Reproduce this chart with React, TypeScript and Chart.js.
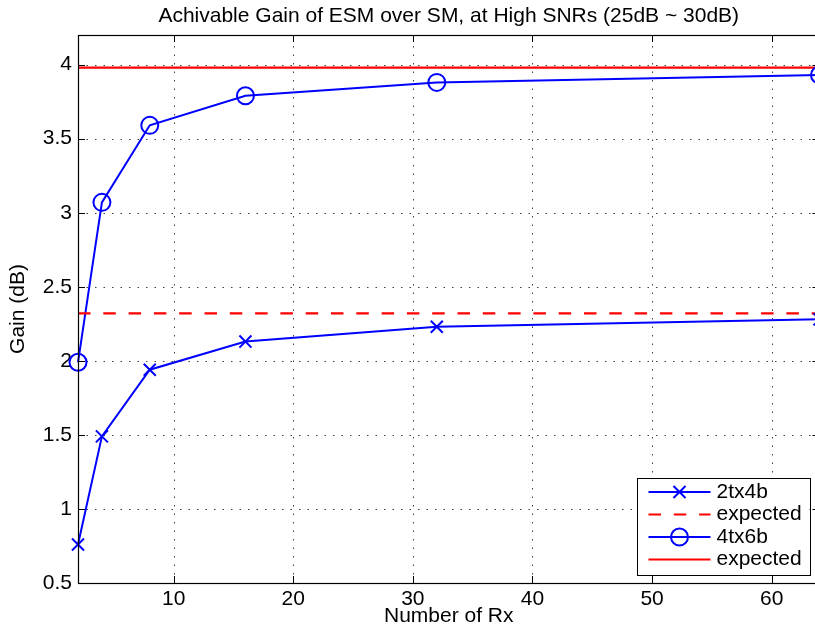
import React, { useEffect, useRef } from "react";
import { Chart, registerables } from "chart.js";

Chart.register(...registerables);

// ---- data ----
const rxCounts = [2, 4, 8, 16, 32, 64];
const gain2tx4b = [0.76, 1.49, 1.94, 2.13, 2.23, 2.28];
const gain4tx6b = [1.99, 3.07, 3.59, 3.79, 3.88, 3.93];
const expected2tx4b = 2.32;
const expected4tx6b = 3.98;
const xTickValues = [10, 20, 30, 40, 50, 60];
const yTickValues = [0.5, 1, 1.5, 2, 2.5, 3, 3.5, 4];
const yTickLabels = ["0.5", "1", "1.5", "2", "2.5", "3", "3.5", "4"];
const seriesLabels = ["2tx4b", "expected", "4tx6b", "expected"];
const titleText = "Achivable Gain of ESM over SM, at High SNRs (25dB ~ 30dB)";
const xTitle = "Number of Rx";
const yTitle = "Gain (dB)";

const FONT = "'Liberation Sans', Arial, Helvetica, sans-serif";
const FS = 21;
const BLUE = "#0000ff";
const RED = "#ff0000";

const matlabAxesPlugin = {
  id: "matlabAxes",
  beforeDatasetsDraw(chart: any) {
    const { ctx, chartArea: a, scales } = chart;
    ctx.save();
    ctx.strokeStyle = "rgba(0,0,0,0.75)";
    ctx.lineWidth = 1;
    ctx.setLineDash([1.5, 7]);
    xTickValues.forEach((v) => {
      const x = Math.round(scales.x.getPixelForValue(v)) + 0.5;
      ctx.beginPath();
      ctx.moveTo(x, a.bottom);
      ctx.lineTo(x, a.top);
      ctx.stroke();
    });
    yTickValues.forEach((v) => {
      const y = Math.round(scales.y.getPixelForValue(v)) + 0.5;
      ctx.beginPath();
      ctx.moveTo(a.left, y);
      ctx.lineTo(a.right, y);
      ctx.stroke();
    });
    ctx.restore();
  },
  afterDatasetsDraw(chart: any) {
    const { ctx, chartArea: a, scales } = chart;
    ctx.save();
    ctx.setLineDash([]);
    ctx.strokeStyle = "#000";
    ctx.lineWidth = 1.2;
    ctx.strokeRect(Math.round(a.left) + 0.5, Math.round(a.top) + 0.5, a.right - a.left, a.bottom - a.top);
    const tl = 7;
    ctx.lineWidth = 1;
    xTickValues.forEach((v) => {
      const x = Math.round(scales.x.getPixelForValue(v)) + 0.5;
      ctx.beginPath();
      ctx.moveTo(x, a.bottom);
      ctx.lineTo(x, a.bottom - tl);
      ctx.moveTo(x, a.top);
      ctx.lineTo(x, a.top + tl);
      ctx.stroke();
    });
    yTickValues.forEach((v) => {
      const y = Math.round(scales.y.getPixelForValue(v)) + 0.5;
      ctx.beginPath();
      ctx.moveTo(a.left, y);
      ctx.lineTo(a.left + tl, y);
      ctx.moveTo(a.right, y);
      ctx.lineTo(a.right - tl, y);
      ctx.stroke();
    });

    // legend box
    const boxW = 173;
    const boxH = 97;
    const bx = a.right - 10 - boxW;
    const by = a.bottom - 8 - boxH;
    ctx.fillStyle = "#fff";
    ctx.fillRect(bx, by, boxW, boxH);
    ctx.strokeStyle = "#000";
    ctx.lineWidth = 1;
    ctx.strokeRect(Math.round(bx) + 0.5, Math.round(by) + 0.5, boxW, boxH);
    ctx.font = `${FS}px ${FONT}`;
    ctx.textBaseline = "middle";
    ctx.textAlign = "left";
    chart.data.datasets.forEach((ds: any, i: number) => {
      const y = by + 14 + i * 22.5;
      const x0 = bx + 12;
      const x1 = bx + 74;
      const xm = (x0 + x1) / 2;
      ctx.save();
      ctx.strokeStyle = ds.borderColor;
      ctx.lineWidth = ds.borderWidth;
      ctx.setLineDash(ds.borderDash || []);
      ctx.beginPath();
      ctx.moveTo(x0, y);
      ctx.lineTo(x1, y);
      ctx.stroke();
      ctx.setLineDash([]);
      if (ds.pointStyle === "crossRot") {
        const r = ds.pointRadius * Math.SQRT1_2;
        ctx.beginPath();
        ctx.moveTo(xm - r, y - r);
        ctx.lineTo(xm + r, y + r);
        ctx.moveTo(xm - r, y + r);
        ctx.lineTo(xm + r, y - r);
        ctx.stroke();
      } else if (ds.pointStyle === "circle" && ds.pointRadius > 0) {
        ctx.beginPath();
        ctx.arc(xm, y, ds.pointRadius, 0, Math.PI * 2);
        ctx.stroke();
      }
      ctx.restore();
      ctx.fillStyle = "#000";
      ctx.fillText(seriesLabels[i], bx + 80, y);
    });
    ctx.restore();
  },
};

export default function App() {
  const canvasRef = useRef<HTMLCanvasElement | null>(null);

  useEffect(() => {
    if (!canvasRef.current) return;
    const first = rxCounts[0];
    const last = rxCounts[rxCounts.length - 1];
    const chart = new Chart(canvasRef.current, {
      type: "line",
      data: {
        datasets: [
          {
            label: seriesLabels[0],
            data: rxCounts.map((x, i) => ({ x, y: gain2tx4b[i] })),
            borderColor: BLUE,
            backgroundColor: "transparent",
            borderWidth: 2,
            pointStyle: "crossRot",
            pointRadius: 8.5,
            pointBorderWidth: 2,
            pointBorderColor: BLUE,
            tension: 0,
            clip: false,
          },
          {
            label: seriesLabels[1],
            data: [
              { x: first, y: expected2tx4b },
              { x: last, y: expected2tx4b },
            ],
            borderColor: RED,
            backgroundColor: "transparent",
            borderWidth: 2.2,
            borderDash: [12.5, 12.8],
            pointRadius: 0,
            pointStyle: "line",
            clip: false,
          },
          {
            label: seriesLabels[2],
            data: rxCounts.map((x, i) => ({ x, y: gain4tx6b[i] })),
            borderColor: BLUE,
            backgroundColor: "transparent",
            borderWidth: 2,
            pointStyle: "circle",
            pointRadius: 8.5,
            pointBorderWidth: 2,
            pointBorderColor: BLUE,
            pointBackgroundColor: "transparent",
            tension: 0,
            clip: false,
          },
          {
            label: seriesLabels[3],
            data: [
              { x: first, y: expected4tx6b },
              { x: last, y: expected4tx6b },
            ],
            borderColor: RED,
            backgroundColor: "transparent",
            borderWidth: 2.2,
            pointRadius: 0,
            pointStyle: "line",
            clip: false,
          },
        ] as any,
      },
      options: {
        animation: false,
        responsive: false,
        maintainAspectRatio: false,
        layout: { padding: { left: 0, right: 8, top: 0, bottom: 0 } },
        plugins: {
          legend: { display: false },
          tooltip: { enabled: false },
          title: {
            display: true,
            text: titleText,
            fullSize: false,
            color: "#000",
            font: { family: FONT, size: FS, weight: "normal" as any, lineHeight: 1.2 },
            padding: { top: 3.5, bottom: 6.3 },
          },
        },
        scales: {
          x: {
            type: "linear",
            min: first,
            max: last,
            afterBuildTicks: (scale: any) => {
              scale.ticks = xTickValues.map((v) => ({ value: v }));
            },
            afterFit: (scale: any) => {
              scale.height = 49;
            },
            grid: { display: false, drawTicks: false },
            border: { display: false },
            ticks: {
              color: "#000",
              font: { family: FONT, size: FS, lineHeight: 1.2 },
              padding: 4,
              maxRotation: 0,
              autoSkip: false,
              callback: (v: any) => String(v),
            },
            title: {
              display: true,
              text: xTitle,
              color: "#000",
              font: { family: FONT, size: FS, lineHeight: 1.2 },
              padding: { top: 0, bottom: 3 },
            },
          },
          y: {
            type: "linear",
            min: 0.5,
            max: 4.2,
            afterBuildTicks: (scale: any) => {
              scale.ticks = yTickValues.map((v) => ({ value: v }));
            },
            afterFit: (scale: any) => {
              scale.width = 78;
            },
            grid: { display: false, drawTicks: false },
            border: { display: false },
            ticks: {
              color: "#000",
              font: { family: FONT, size: FS, lineHeight: 1.2 },
              padding: 6,
              autoSkip: false,
              callback: (v: any) => {
                const idx = yTickValues.indexOf(Number(v));
                return idx >= 0 ? yTickLabels[idx] : "";
              },
            },
            title: {
              display: true,
              text: yTitle,
              color: "#000",
              font: { family: FONT, size: FS, lineHeight: 1.2 },
              padding: { top: 6, bottom: 0 },
            },
          },
        },
      },
      plugins: [matlabAxesPlugin],
    });
    return () => chart.destroy();
  }, []);

  return (
    <div
      style={{
        position: "fixed",
        left: 0,
        top: 0,
        width: 815,
        height: 632,
        overflow: "hidden",
        background: "#fff",
      }}
    >
      <canvas ref={canvasRef} width={830} height={632} style={{ display: "block", width: 830, height: 632 }} />
    </div>
  );
}
